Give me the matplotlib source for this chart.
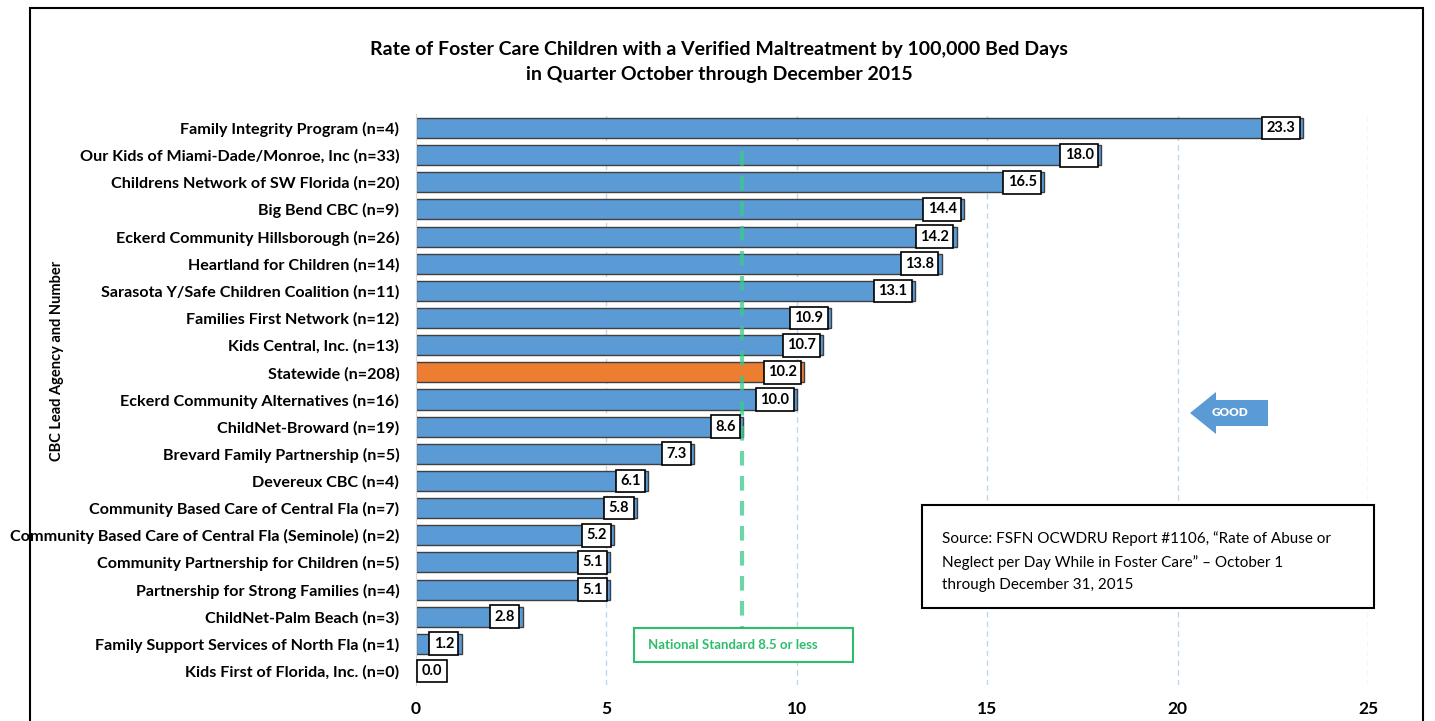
import matplotlib
matplotlib.use("Agg")
import matplotlib.pyplot as plt
from matplotlib.patches import Rectangle, Polygon

plt.rcParams['font.family'] = ['Lato', 'DejaVu Sans']

categories = [
    "Family Integrity Program (n=4)",
    "Our Kids of Miami-Dade/Monroe, Inc (n=33)",
    "Childrens Network of SW Florida (n=20)",
    "Big Bend CBC (n=9)",
    "Eckerd Community Hillsborough (n=26)",
    "Heartland for Children (n=14)",
    "Sarasota Y/Safe Children Coalition (n=11)",
    "Families First Network (n=12)",
    "Kids Central, Inc. (n=13)",
    "Statewide (n=208)",
    "Eckerd Community Alternatives (n=16)",
    "ChildNet-Broward (n=19)",
    "Brevard Family Partnership (n=5)",
    "Devereux CBC (n=4)",
    "Community Based Care of Central Fla (n=7)",
    "Community Based Care of Central Fla (Seminole) (n=2)",
    "Community Partnership for Children (n=5)",
    "Partnership for Strong Families (n=4)",
    "ChildNet-Palm Beach (n=3)",
    "Family Support Services of North Fla (n=1)",
    "Kids First of Florida, Inc. (n=0)",
]
values = [23.3, 18.0, 16.5, 14.4, 14.2, 13.8, 13.1, 10.9, 10.7, 10.2, 10.0,
          8.6, 7.3, 6.1, 5.8, 5.2, 5.1, 5.1, 2.8, 1.2, 0.0]
highlight = "Statewide (n=208)"
x_ticks = [0, 5, 10, 15, 20, 25]
national_standard = 8.5

title = ("Rate of Foster Care Children with a Verified Maltreatment by 100,000 Bed Days\n"
         "in Quarter October through December 2015")
source_text = ("Source: FSFN OCWDRU Report #1106, \u201cRate of Abuse or\n"
               "Neglect per Day While in Foster Care\u201d \u2013 October 1\n"
               "through December 31, 2015")

W, H = 1435, 721
fig = plt.figure(figsize=(W / 100, H / 100), dpi=100)

def fx(px):
    return px / W

def fy(py):
    return 1 - py / H

ax = fig.add_axes([fx(416), fy(684.6), fx(1368) - fx(416), fy(114.4) - fy(684.6)])

blue = "#5B9BD5"
orange = "#ED7D31"
ypos = list(range(len(categories)))
colors = [orange if c == highlight else blue for c in categories]

for v in x_ticks[1:]:
    ax.axvline(v, color="#BDD7EE", lw=1, ls=(0, (4, 3)), zorder=0)

ax.barh(ypos, values, height=0.74, color=colors, edgecolor="#3F3F3F",
        linewidth=1.0, zorder=2)

ax.set_xlim(0, 25)
ax.set_ylim(len(categories) - 0.5, -0.5)
ax.set_yticks(ypos)
ax.set_yticklabels(categories, fontsize=11.6, fontweight="bold")
ax.set_xticks(x_ticks)
ax.set_xticklabels([str(t) for t in x_ticks], fontsize=12.5, fontweight="bold")
ax.tick_params(axis="y", length=0, pad=12)
ax.tick_params(axis="x", length=0, pad=12)
for s in ["top", "right", "bottom"]:
    ax.spines[s].set_visible(False)
ax.spines["left"].set_color("#D9D9D9")

for y, v in zip(ypos, values):
    label = f"{v:.1f}"
    if v < 1.0:
        ax.text(0.15, y, label, ha="left", va="center", fontsize=10.5,
                fontweight="bold", zorder=4,
                bbox=dict(boxstyle="square,pad=0.3", fc="white", ec="black", lw=1.2))
    else:
        ax.text(v - 0.2, y, label, ha="right", va="center", fontsize=10.5,
                fontweight="bold", zorder=4,
                bbox=dict(boxstyle="square,pad=0.3", fc="white", ec="black", lw=1.2))

# national standard line
ax.plot([national_standard + 0.05, national_standard + 0.05], [0.85, 18.85],
        color="#3CC98A", lw=3, ls=(0, (3.5, 2.5)), alpha=0.75, zorder=3)

ax.set_ylabel("CBC Lead Agency and Number", fontsize=10.5, fontweight="bold")
ax.yaxis.set_label_coords(fx(64), 0.5, transform=fig.transFigure)

# title
fig.text(fx(719), fy(62), title, ha="center", va="center", fontsize=14,
         fontweight="bold", linespacing=1.55)

# national standard box
fig.patches.append(Rectangle((fx(634), fy(662)), fx(853) - fx(634), fy(628) - fy(662),
                             transform=fig.transFigure, fc="white", ec="#2DBE6C", lw=1.5,
                             zorder=5))
fig.text(fx(648), fy(645), "National Standard 8.5 or less", ha="left", va="center",
         fontsize=9.5, fontweight="bold", color="#2DBE6C", zorder=6)

# source box
fig.patches.append(Rectangle((fx(922), fy(608)), fx(1374) - fx(922), fy(505) - fy(608),
                             transform=fig.transFigure, fc="white", ec="black", lw=1.5,
                             zorder=5))
fig.text(fx(942), fy(562), source_text, ha="left", va="center", fontsize=11,
         color="black", linespacing=1.75, zorder=6)

# GOOD arrow
arrow_pts = [(1190, 413), (1216, 392), (1216, 400), (1268, 400), (1268, 426),
             (1216, 426), (1216, 434)]
fig.patches.append(Polygon([(fx(a), fy(b)) for a, b in arrow_pts], closed=True,
                           transform=fig.transFigure, fc=blue, ec="none", zorder=5))
fig.text(fx(1230), fy(412), "GOOD", ha="center", va="center", fontsize=8.5,
         fontweight="heavy", color="white", zorder=6)

# outer frame
fig.patches.append(Rectangle((fx(30), fy(740)), fx(1423) - fx(30), fy(8) - fy(740),
                             transform=fig.transFigure, fc="none", ec="black", lw=1.5,
                             zorder=10))

fig.savefig("out.png", dpi=100)
